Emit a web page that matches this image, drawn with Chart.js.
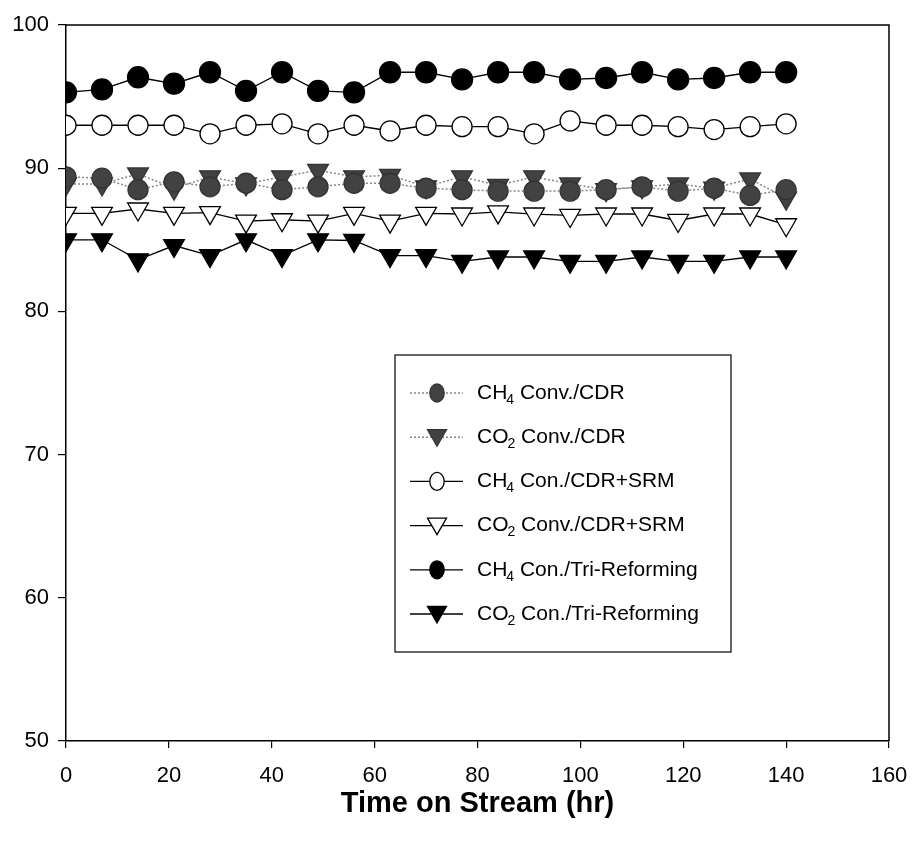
<!DOCTYPE html>
<html lang="en">
<head>
  <meta charset="UTF-8" />
  <title>Time on Stream</title>
  <script src="https://cdn.jsdelivr.net/npm/chart.js"></script>
  <style>
    html, body { margin: 0; padding: 0; background: #fff; }
    #wrap { width: 913px; height: 854px; }
  </style>
</head>
<body>
  <div id="wrap"><canvas id="tosChart" width="913" height="854"></canvas></div>
  <script>
    // time on stream (hr)
    const hours = [0, 7, 14, 21, 28, 35, 42, 49, 56, 63, 70, 77, 84, 91, 98, 105, 112, 119, 126, 133, 140];

    // conversions (%)
    const ch4Cdr = [89.4, 89.3, 88.5, 89.05, 88.7, 88.95, 88.5, 88.7, 88.95, 88.95, 88.6, 88.5, 88.4, 88.4, 88.4, 88.5, 88.7, 88.4, 88.6, 88.1, 88.5];
    const co2Cdr = [88.9, 88.9, 89.6, 88.6, 89.4, 88.9, 89.4, 89.85, 89.4, 89.5, 88.7, 89.4, 88.8, 89.4, 88.9, 88.5, 88.7, 88.9, 88.6, 89.25, 87.9];
    const ch4Srm = [93.0, 93.0, 93.0, 93.0, 92.4, 93.0, 93.1, 92.4, 93.0, 92.6, 93.0, 92.9, 92.9, 92.4, 93.3, 93.0, 93.0, 92.9, 92.7, 92.9, 93.1];
    const co2Srm = [86.85, 86.85, 87.15, 86.85, 86.9, 86.3, 86.4, 86.3, 86.85, 86.3, 86.85, 86.8, 86.95, 86.8, 86.7, 86.8, 86.8, 86.35, 86.8, 86.8, 86.05];
    const ch4Tri = [95.3, 95.5, 96.35, 95.9, 96.7, 95.4, 96.7, 95.4, 95.3, 96.7, 96.7, 96.2, 96.7, 96.7, 96.2, 96.3, 96.7, 96.2, 96.3, 96.7, 96.7];
    const co2Tri = [85.0, 85.0, 83.6, 84.6, 83.9, 85.0, 83.9, 85.0, 84.95, 83.9, 83.9, 83.5, 83.8, 83.8, 83.5, 83.5, 83.8, 83.5, 83.5, 83.8, 83.8];

    const xTicks = [0, 20, 40, 60, 80, 100, 120, 140, 160];
    const yTicks = [50, 60, 70, 80, 90, 100];

    // legend labels: [main, subscript, rest]
    const legendLabels = [
      ["CH", "4", " Conv./CDR"],
      ["CO", "2", " Conv./CDR"],
      ["CH", "4", " Con./CDR+SRM"],
      ["CO", "2", " Conv./CDR+SRM"],
      ["CH", "4", " Con./Tri-Reforming"],
      ["CO", "2", " Con./Tri-Reforming"]
    ];

    const GRAY = "#424242";
    const FONT = "'Liberation Sans', Arial, sans-serif";

    function series(data, opts) {
      return Object.assign({
        data: hours.map((h, i) => ({ x: h, y: data[i] })),
        borderColor: "#000",
        borderWidth: 1.3,
        pointBorderColor: "#000",
        pointBorderWidth: 1.3,
        tension: 0
      }, opts);
    }

    const datasets = [
      series(ch4Cdr, { pointStyle: "circle", pointRadius: 10, backgroundColor: GRAY, pointBackgroundColor: GRAY, pointBorderColor: "#333", borderColor: "#888", borderDash: [2, 2], borderWidth: 1.5 }),
      series(co2Cdr, { pointStyle: "triangle", pointRotation: 180, pointRadius: 12, backgroundColor: GRAY, pointBackgroundColor: GRAY, pointBorderColor: "#333", borderColor: "#888", borderDash: [2, 2], borderWidth: 1.5 }),
      series(ch4Srm, { pointStyle: "circle", pointRadius: 10, backgroundColor: "#fff", pointBackgroundColor: "#fff" }),
      series(co2Srm, { pointStyle: "triangle", pointRotation: 180, pointRadius: 12, backgroundColor: "#fff", pointBackgroundColor: "#fff" }),
      series(ch4Tri, { pointStyle: "circle", pointRadius: 10.5, backgroundColor: "#000", pointBackgroundColor: "#000" }),
      series(co2Tri, { pointStyle: "triangle", pointRotation: 180, pointRadius: 12, backgroundColor: "#000", pointBackgroundColor: "#000" })
    ];

    function drawMarker(ctx, ds, x, y, r) {
      ctx.save();
      ctx.fillStyle = ds.pointBackgroundColor;
      ctx.strokeStyle = ds.pointBorderColor;
      ctx.lineWidth = 1.3;
      ctx.beginPath();
      if (ds.pointStyle === "circle") {
        ctx.ellipse(x, y, r * 0.8, r, 0, 0, Math.PI * 2);
      } else {
        const h = r * 1.5, w = r * 1.73;
        ctx.moveTo(x - w / 2, y - h / 3);
        ctx.lineTo(x + w / 2, y - h / 3);
        ctx.lineTo(x, y + 2 * h / 3);
        ctx.closePath();
      }
      ctx.fill();
      ctx.stroke();
      ctx.restore();
    }

    // frame on top/right + custom legend with subscripts
    const framePlugin = {
      id: "frameAndLegend",
      afterDraw(chart) {
        const { ctx, chartArea } = chart;
        ctx.save();
        ctx.strokeStyle = "#000";
        ctx.lineWidth = 1.5;
        ctx.beginPath();
        ctx.moveTo(chartArea.left, chartArea.top);
        ctx.lineTo(chartArea.right, chartArea.top);
        ctx.lineTo(chartArea.right, chartArea.bottom);
        ctx.stroke();

        // legend box
        const bx = 395, by = 355, bw = 336, bh = 297;
        ctx.fillStyle = "#fff";
        ctx.fillRect(bx, by, bw, bh);
        ctx.lineWidth = 1.2;
        ctx.strokeRect(bx, by, bw, bh);

        const rowY0 = 393, rowGap = 44.2;
        legendLabels.forEach((lab, i) => {
          const ds = chart.data.datasets[i];
          const y = rowY0 + i * rowGap;
          ctx.save();
          ctx.strokeStyle = ds.borderColor;
          ctx.lineWidth = ds.borderWidth;
          ctx.setLineDash(ds.borderDash || []);
          ctx.beginPath();
          ctx.moveTo(410, y);
          ctx.lineTo(463, y);
          ctx.stroke();
          ctx.restore();
          drawMarker(ctx, ds, 437, ds.pointStyle === "circle" ? y : y - 2, ds.pointStyle === "circle" ? 9 : 11);

          ctx.fillStyle = "#000";
          ctx.textBaseline = "middle";
          ctx.textAlign = "left";
          let x = 477;
          ctx.font = "21px " + FONT;
          ctx.fillText(lab[0], x, y);
          x += ctx.measureText(lab[0]).width - 1;
          ctx.font = "14px " + FONT;
          ctx.fillText(lab[1], x, y + 7);
          x += ctx.measureText(lab[1]).width;
          ctx.font = "21px " + FONT;
          ctx.fillText(lab[2], x, y);
        });
        ctx.restore();
      }
    };

    new Chart(document.getElementById("tosChart").getContext("2d"), {
      type: "line",
      data: { datasets },
      plugins: [framePlugin],
      options: {
        responsive: false,
        animation: false,
        events: [],
        layout: { padding: { top: 25, right: 24, left: 0, bottom: 0 } },
        plugins: {
          legend: { display: false },
          tooltip: { enabled: false }
        },
        scales: {
          x: {
            type: "linear",
            min: 0,
            max: 160,
            afterFit(scale) {
              scale.height = 113;
              scale.paddingLeft = 0;
              scale.paddingRight = 0;
            },
            afterBuildTicks(scale) { scale.ticks = xTicks.map(v => ({ value: v })); },
            grid: { display: true, drawOnChartArea: false, drawTicks: true, tickLength: 7, color: "#000", lineWidth: 1.2 },
            border: { display: true, color: "#000", width: 1.5 },
            ticks: { color: "#000", padding: 15, font: { family: FONT, size: 22 }, maxRotation: 0 },
            title: {
              display: true,
              text: "Time on Stream (hr)",
              color: "#000",
              font: { family: "'Liberation Sans Narrow', 'Liberation Sans', Arial, sans-serif", size: 29, weight: "bold" },
              padding: { top: 0, bottom: 33 }
            }
          },
          y: {
            min: 50,
            max: 100,
            afterFit(scale) { scale.width = 66; },
            afterBuildTicks(scale) { scale.ticks = yTicks.map(v => ({ value: v })); },
            grid: { display: true, drawOnChartArea: false, drawTicks: true, tickLength: 8, color: "#000", lineWidth: 1.2 },
            border: { display: true, color: "#000", width: 1.5 },
            ticks: { color: "#000", padding: 9, font: { family: FONT, size: 22 } }
          }
        }
      }
    });
  </script>
</body>
</html>
